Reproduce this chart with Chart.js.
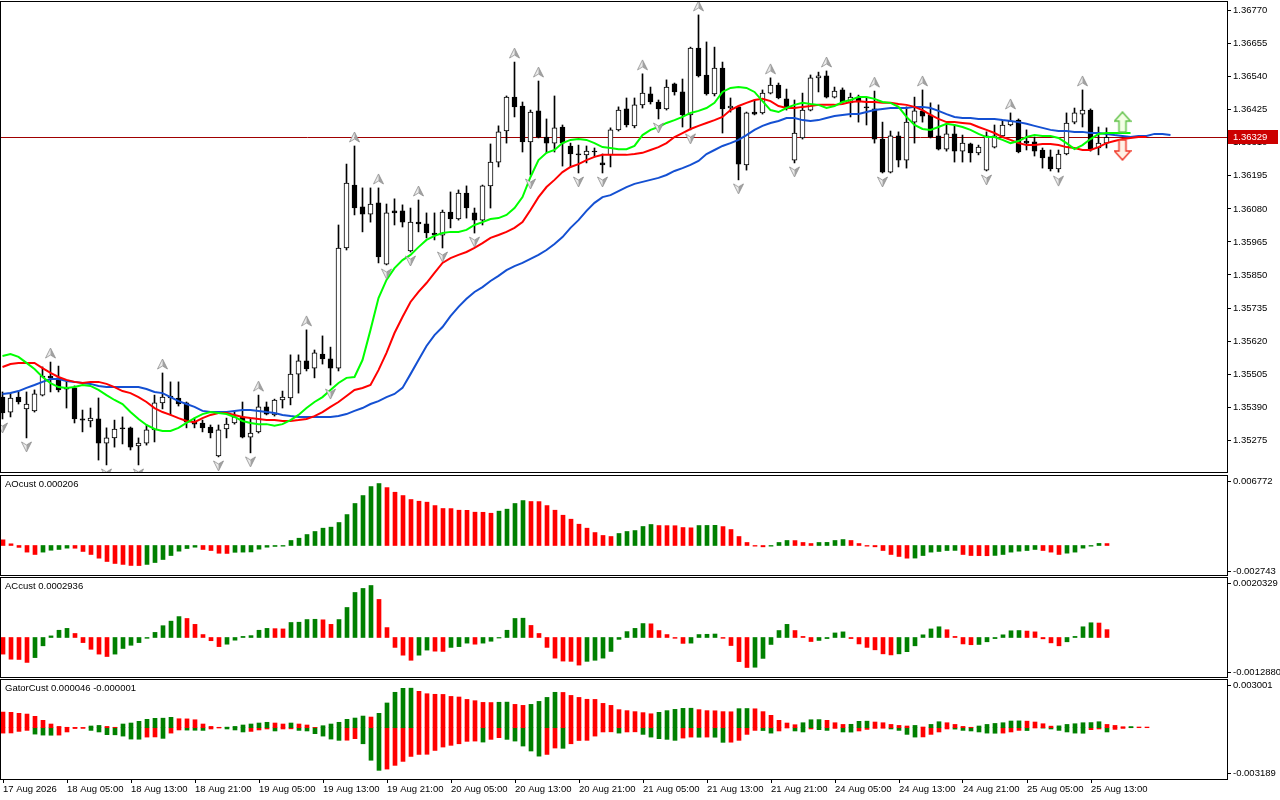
<!DOCTYPE html>
<html>
<head>
<meta charset="utf-8">
<title>H1 chart with Alligator, Fractals, AO, AC, Gator</title>
<script src="https://cdn.jsdelivr.net/npm/chart.js@4.4.1/dist/chart.umd.min.js"></script>
<style>
  html, body { margin: 0; padding: 0; background: #fff; }
  canvas { position: absolute; left: 0; }
</style>
</head>
<body>
<canvas id="main" width="1280" height="474" style="top:0"></canvas>
<canvas id="ao" width="1280" height="102" style="top:474px"></canvas>
<canvas id="ac" width="1280" height="102" style="top:576px"></canvas>
<canvas id="gator" width="1280" height="122" style="top:678px"></canvas>
<script>
// ---- data ----
const tickLabels = ['17 Aug 2026','18 Aug 05:00','18 Aug 13:00','18 Aug 21:00','19 Aug 05:00','19 Aug 13:00',
  '19 Aug 21:00','20 Aug 05:00','20 Aug 13:00','20 Aug 21:00','21 Aug 05:00','21 Aug 13:00','21 Aug 21:00',
  '24 Aug 05:00','24 Aug 13:00','24 Aug 21:00','25 Aug 05:00','25 Aug 13:00'];
const tickBars = [0,8,16,24,32,40,48,56,64,72,80,88,96,104,112,120,128,136];
const priceTicks = [1.36770,1.36655,1.36540,1.36425,1.36310,1.36195,1.36080,1.35965,1.35850,1.35735,1.35620,1.35505,1.35390,1.35275];

const open = [
1.35425,1.35373,1.35425,1.35384,1.35377,1.35432,1.35498,1.35492,1.35457,1.35457,
1.35349,1.35342,1.35349,1.35265,1.35283,1.35318,1.35318,1.35255,1.35265,1.35311,
1.35405,1.35429,1.35422,1.35405,1.35338,1.35335,1.35321,1.35220,1.35314,1.35335,
1.35356,1.35286,1.35304,1.35391,1.35363,1.35415,1.35422,1.35505,1.35551,1.35526,
1.35575,1.35558,1.35526,1.35944,1.36163,1.36087,1.36062,1.36101,1.35888,1.36073,
1.36073,1.35934,1.36034,1.36028,1.35996,1.35989,1.36069,1.36045,1.36135,1.36066,
1.36041,1.36160,1.36243,1.36351,1.36469,1.36438,1.36313,1.36421,1.36330,1.36309,
1.36365,1.36299,1.36271,1.36268,1.36281,1.36240,1.36268,1.36355,1.36428,1.36369,
1.36442,1.36480,1.36452,1.36428,1.36515,1.36487,1.36407,1.36640,1.36546,1.36480,
1.36570,1.36431,1.36435,1.36233,1.36417,1.36414,1.36483,1.36511,1.36463,1.36250,
1.36327,1.36424,1.36536,1.36543,1.36469,1.36494,1.36449,1.36469,1.36435,1.36428,
1.36323,1.36208,1.36334,1.36250,1.36382,1.36421,1.36407,1.36334,1.36288,1.36341,
1.36281,1.36306,1.36275,1.36215,1.36295,1.36334,1.36372,1.36389,1.36316,1.36313,
1.36285,1.36261,1.36219,1.36271,1.36382,1.36410,1.36424,1.36292,1.36309];
const high = [
1.35443,1.35439,1.35443,1.35443,1.35450,1.35530,1.35547,1.35533,1.35481,1.35464,
1.35380,1.35387,1.35422,1.35318,1.35345,1.35356,1.35321,1.35283,1.35328,1.35432,
1.35509,1.35478,1.35478,1.35408,1.35352,1.35345,1.35328,1.35328,1.35352,1.35373,
1.35408,1.35352,1.35432,1.35408,1.35418,1.35446,1.35572,1.35572,1.35659,1.35589,
1.35638,1.35599,1.36024,1.36236,1.36299,1.36153,1.36153,1.36153,1.36097,1.36115,
1.36094,1.36083,1.36111,1.36066,1.36066,1.36076,1.36139,1.36146,1.36160,1.36083,
1.36163,1.36306,1.36369,1.36473,1.36591,1.36452,1.36424,1.36525,1.36393,1.36473,
1.36372,1.36309,1.36302,1.36299,1.36292,1.36271,1.36362,1.36435,1.36466,1.36466,
1.36550,1.36504,1.36459,1.36529,1.36518,1.36532,1.36643,1.36755,1.36661,1.36643,
1.36591,1.36466,1.36438,1.36417,1.36459,1.36494,1.36536,1.36518,1.36497,1.36459,
1.36483,1.36546,1.36556,1.36560,1.36504,1.36501,1.36483,1.36476,1.36466,1.36490,
1.36382,1.36351,1.36348,1.36435,1.36469,1.36494,1.36449,1.36442,1.36372,1.36372,
1.36337,1.36309,1.36302,1.36348,1.36372,1.36389,1.36414,1.36393,1.36355,1.36330,
1.36292,1.36285,1.36285,1.36414,1.36431,1.36494,1.36428,1.36365,1.36362];
const low = [
1.35349,1.35356,1.35401,1.35283,1.35373,1.35429,1.35443,1.35443,1.35387,1.35335,
1.35304,1.35321,1.35206,1.35189,1.35251,1.35262,1.35241,1.35189,1.35258,1.35269,
1.35384,1.35363,1.35394,1.35318,1.35318,1.35304,1.35283,1.35217,1.35283,1.35331,
1.35283,1.35231,1.35300,1.35363,1.35359,1.35387,1.35398,1.35439,1.35516,1.35492,
1.35540,1.35467,1.35516,1.35937,1.36059,1.36000,1.36034,1.35892,1.35885,1.36024,
1.36017,1.35930,1.36000,1.35979,1.35972,1.35944,1.36014,1.36041,1.36048,1.35996,
1.36024,1.36083,1.36226,1.36309,1.36400,1.36278,1.36198,1.36327,1.36275,1.36278,
1.36229,1.36226,1.36205,1.36240,1.36261,1.36205,1.36226,1.36351,1.36365,1.36362,
1.36431,1.36445,1.36393,1.36424,1.36476,1.36365,1.36355,1.36539,1.36476,1.36473,
1.36344,1.36417,1.36181,1.36215,1.36407,1.36410,1.36480,1.36463,1.36424,1.36240,
1.36323,1.36421,1.36487,1.36466,1.36466,1.36449,1.36400,1.36382,1.36372,1.36309,
1.36205,1.36205,1.36226,1.36222,1.36309,1.36382,1.36327,1.36285,1.36281,1.36243,
1.36243,1.36243,1.36268,1.36212,1.36292,1.36330,1.36369,1.36275,1.36285,1.36264,
1.36222,1.36212,1.36208,1.36268,1.36376,1.36365,1.36281,1.36268,1.36292];
const close = [
1.35370,1.35422,1.35408,1.35401,1.35436,1.35498,1.35492,1.35450,1.35453,1.35349,
1.35345,1.35352,1.35265,1.35283,1.35314,1.35314,1.35251,1.35265,1.35311,1.35405,
1.35425,1.35422,1.35401,1.35338,1.35331,1.35318,1.35300,1.35311,1.35331,1.35356,
1.35286,1.35300,1.35391,1.35366,1.35415,1.35425,1.35505,1.35551,1.35523,1.35579,
1.35558,1.35526,1.35944,1.36170,1.36083,1.36062,1.36097,1.35913,1.36066,1.36066,
1.36034,1.36034,1.36028,1.35996,1.35989,1.36069,1.36045,1.36135,1.36083,1.36041,
1.36160,1.36243,1.36348,1.36469,1.36435,1.36313,1.36417,1.36330,1.36309,1.36362,
1.36309,1.36271,1.36268,1.36281,1.36278,1.36233,1.36355,1.36424,1.36372,1.36442,
1.36483,1.36452,1.36428,1.36504,1.36487,1.36407,1.36640,1.36543,1.36480,1.36570,
1.36428,1.36438,1.36236,1.36414,1.36410,1.36483,1.36511,1.36466,1.36431,1.36344,
1.36424,1.36536,1.36543,1.36469,1.36490,1.36452,1.36469,1.36452,1.36431,1.36323,
1.36208,1.36334,1.36250,1.36382,1.36421,1.36403,1.36330,1.36288,1.36341,1.36281,
1.36309,1.36275,1.36295,1.36334,1.36334,1.36372,1.36386,1.36278,1.36309,1.36281,
1.36257,1.36219,1.36271,1.36379,1.36414,1.36424,1.36285,1.36309,1.36329];

// Alligator lines (already shifted forward, so they run past the last candle)
const lips = [
1.35568,1.35575,1.35565,1.35544,1.35523,1.35495,1.35474,1.35460,1.35457,1.35460,
1.35467,1.35464,1.35450,1.35432,1.35415,1.35401,1.35373,1.35349,1.35328,1.35314,
1.35307,1.35307,1.35318,1.35335,1.35352,1.35366,1.35373,1.35370,1.35366,1.35356,
1.35342,1.35335,1.35331,1.35331,1.35325,1.35331,1.35345,1.35363,1.35387,1.35408,
1.35425,1.35450,1.35474,1.35492,1.35495,1.35554,1.35659,1.35770,1.35833,1.35874,
1.35902,1.35920,1.35947,1.35972,1.35986,1.35996,1.36000,1.36000,1.36007,1.36024,
1.36034,1.36045,1.36048,1.36059,1.36083,1.36121,1.36191,1.36250,1.36275,1.36285,
1.36309,1.36320,1.36323,1.36320,1.36309,1.36295,1.36292,1.36288,1.36288,1.36299,
1.36337,1.36355,1.36365,1.36379,1.36389,1.36400,1.36414,1.36421,1.36431,1.36449,
1.36487,1.36501,1.36504,1.36501,1.36487,1.36455,1.36424,1.36417,1.36431,1.36442,
1.36449,1.36445,1.36442,1.36431,1.36438,1.36452,1.36459,1.36469,1.36469,1.36463,
1.36452,1.36449,1.36435,1.36400,1.36372,1.36358,1.36355,1.36365,1.36376,1.36372,
1.36365,1.36355,1.36341,1.36330,1.36330,1.36320,1.36309,1.36316,1.36330,1.36337,
1.36334,1.36334,1.36327,1.36309,1.36288,1.36302,1.36323,1.36341,1.36344,1.36344,
1.36344,1.36344];
const teeth = [
1.35530,1.35540,1.35544,1.35544,1.35544,1.35526,1.35509,1.35495,1.35485,1.35478,
1.35474,1.35478,1.35478,1.35471,1.35460,1.35446,1.35439,1.35425,1.35408,1.35387,
1.35373,1.35363,1.35352,1.35342,1.35338,1.35352,1.35363,1.35370,1.35370,1.35363,
1.35356,1.35352,1.35349,1.35345,1.35345,1.35342,1.35342,1.35345,1.35349,1.35359,
1.35373,1.35391,1.35408,1.35429,1.35450,1.35457,1.35467,1.35519,1.35579,1.35648,
1.35704,1.35756,1.35791,1.35822,1.35857,1.35892,1.35909,1.35920,1.35930,1.35944,
1.35961,1.35979,1.35989,1.36000,1.36014,1.36034,1.36076,1.36121,1.36156,1.36181,
1.36208,1.36226,1.36236,1.36250,1.36261,1.36268,1.36268,1.36268,1.36268,1.36271,
1.36275,1.36285,1.36295,1.36309,1.36330,1.36344,1.36358,1.36369,1.36379,1.36389,
1.36400,1.36424,1.36438,1.36449,1.36459,1.36463,1.36455,1.36438,1.36431,1.36431,
1.36435,1.36438,1.36442,1.36442,1.36442,1.36445,1.36452,1.36455,1.36452,1.36452,
1.36449,1.36449,1.36445,1.36442,1.36435,1.36424,1.36407,1.36393,1.36382,1.36382,
1.36379,1.36376,1.36365,1.36355,1.36344,1.36330,1.36320,1.36309,1.36302,1.36302,
1.36306,1.36306,1.36302,1.36295,1.36292,1.36285,1.36285,1.36295,1.36309,1.36316,
1.36323,1.36327,1.36330,1.36330];
const jaw = [
1.35436,1.35439,1.35446,1.35457,1.35467,1.35478,1.35488,1.35488,1.35481,1.35478,
1.35474,1.35471,1.35464,1.35460,1.35460,1.35460,1.35460,1.35460,1.35453,1.35443,
1.35439,1.35425,1.35411,1.35401,1.35391,1.35377,1.35373,1.35373,1.35373,1.35377,
1.35380,1.35380,1.35377,1.35373,1.35370,1.35363,1.35359,1.35356,1.35356,1.35356,
1.35356,1.35356,1.35359,1.35366,1.35377,1.35387,1.35401,1.35411,1.35425,1.35436,
1.35457,1.35505,1.35554,1.35603,1.35641,1.35669,1.35707,1.35739,1.35767,1.35791,
1.35808,1.35829,1.35847,1.35867,1.35881,1.35892,1.35906,1.35920,1.35937,1.35958,
1.35982,1.36014,1.36041,1.36073,1.36101,1.36121,1.36128,1.36142,1.36156,1.36167,
1.36174,1.36181,1.36188,1.36198,1.36212,1.36222,1.36233,1.36247,1.36271,1.36285,
1.36299,1.36309,1.36320,1.36337,1.36355,1.36369,1.36379,1.36386,1.36396,1.36396,
1.36389,1.36386,1.36389,1.36396,1.36403,1.36407,1.36410,1.36410,1.36417,1.36424,
1.36428,1.36431,1.36431,1.36431,1.36435,1.36435,1.36431,1.36421,1.36410,1.36400,
1.36396,1.36396,1.36393,1.36393,1.36393,1.36389,1.36386,1.36382,1.36376,1.36369,
1.36362,1.36355,1.36351,1.36351,1.36348,1.36348,1.36344,1.36344,1.36341,1.36337,
1.36334,1.36330,1.36334,1.36334,1.36341,1.36341,1.36337];

const fractalUpBars = [6,20,32,38,44,47,52,64,67,80,87,96,103,109,115,126,135];
const fractalDownBars = [0,3,13,17,27,31,41,48,51,55,59,66,72,75,82,86,92,99,110,123,132];
const signalUp = [{bar: 140, price: 1.36382}];
const signalDown = [{bar: 140, price: 1.36285}];

const ao = [
0.00060,0.00018,-0.00020,-0.00070,-0.00095,-0.00070,-0.00050,-0.00042,-0.00028,-0.00029,
-0.00063,-0.00095,-0.00134,-0.00169,-0.00190,-0.00200,-0.00211,-0.00212,-0.00200,-0.00180,
-0.00148,-0.00106,-0.00060,-0.00032,-0.00018,-0.00042,-0.00053,-0.00082,-0.00084,-0.00072,
-0.00070,-0.00068,-0.00039,-0.00018,-0.00010,-0.00007,0.00053,0.00077,0.00116,0.00148,
0.00183,0.00194,0.00243,0.00327,0.00444,0.00528,0.00623,0.00655,0.00612,0.00563,
0.00528,0.00486,0.00468,0.00458,0.00422,0.00391,0.00390,0.00373,0.00372,0.00352,
0.00351,0.00341,0.00363,0.00384,0.00444,0.00475,0.00465,0.00464,0.00422,0.00373,
0.00320,0.00278,0.00225,0.00183,0.00137,0.00106,0.00095,0.00127,0.00148,0.00158,
0.00201,0.00222,0.00211,0.00210,0.00209,0.00190,0.00187,0.00211,0.00212,0.00213,
0.00200,0.00169,0.00095,0.00032,-0.00007,-0.00014,-0.00007,0.00032,0.00053,0.00052,
0.00032,0.00021,0.00032,0.00033,0.00053,0.00063,0.00053,0.00021,-0.00007,-0.00014,
-0.00053,-0.00095,-0.00116,-0.00134,-0.00133,-0.00106,-0.00070,-0.00063,-0.00053,-0.00052,
-0.00095,-0.00106,-0.00107,-0.00108,-0.00105,-0.00095,-0.00070,-0.00060,-0.00053,-0.00042,
-0.00053,-0.00070,-0.00095,-0.00081,-0.00070,-0.00028,-0.00007,0.00022,0.000206];
const ac = [
-0.00062,-0.00081,-0.00082,-0.00093,-0.00075,-0.00031,0.00006,0.00027,0.00034,0.00015,
-0.00019,-0.00044,-0.00062,-0.00071,-0.00062,-0.00041,-0.00029,-0.00019,-0.00003,0.00019,
0.00044,0.00061,0.00078,0.00071,0.00049,0.00011,-0.00012,-0.00034,-0.00025,-0.00010,
0.00004,0.00007,0.00027,0.00034,0.00033,0.00032,0.00056,0.00057,0.00067,0.00068,
0.00066,0.00049,0.00067,0.00112,0.00168,0.00183,0.00194,0.00142,0.00037,-0.00037,
-0.00066,-0.00085,-0.00066,-0.00047,-0.00051,-0.00052,-0.00037,-0.00034,-0.00021,-0.00025,
-0.00021,-0.00014,-0.00002,0.00027,0.00071,0.00072,0.00045,0.00015,-0.00037,-0.00077,
-0.00088,-0.00089,-0.00103,-0.00089,-0.00085,-0.00077,-0.00052,-0.00007,0.00022,0.00034,
0.00052,0.00051,0.00026,0.00011,-0.00003,-0.00022,-0.00021,0.00011,0.00012,0.00013,
-0.00003,-0.00030,-0.00090,-0.00112,-0.00111,-0.00078,-0.00026,0.00026,0.00049,0.00026,
0.00004,-0.00015,-0.00011,-0.00004,0.00017,0.00021,-0.00004,-0.00024,-0.00037,-0.00046,
-0.00061,-0.00065,-0.00061,-0.00053,-0.00031,0.00010,0.00032,0.00040,0.00029,0.00004,
-0.00024,-0.00027,-0.00026,-0.00016,-0.00004,0.00010,0.00025,0.00026,0.00024,0.00021,
-0.00005,-0.00020,-0.00031,-0.00016,0.00004,0.00040,0.00055,0.00054,0.0002936];
const gatorUp = [
0.00110,0.00108,0.00101,0.00096,0.00080,0.00052,0.00026,0.00009,0.00003,0.00002,
0.00001,0.00012,0.00016,0.00009,0.00003,0.00026,0.00033,0.00045,0.00059,0.00066,
0.00067,0.00073,0.00063,0.00062,0.00056,0.00026,0.00009,0.00003,0.00004,0.00009,
0.00019,0.00026,0.00033,0.00038,0.00033,0.00026,0.00033,0.00026,0.00019,0.00002,
0.00014,0.00026,0.00038,0.00059,0.00068,0.00082,0.00075,0.00101,0.00174,0.00249,
0.00277,0.00278,0.00256,0.00239,0.00235,0.00234,0.00220,0.00216,0.00199,0.00190,
0.00178,0.00177,0.00179,0.00180,0.00164,0.00157,0.00164,0.00185,0.00213,0.00249,
0.00248,0.00227,0.00213,0.00200,0.00199,0.00171,0.00157,0.00127,0.00120,0.00113,
0.00106,0.00098,0.00108,0.00120,0.00129,0.00136,0.00137,0.00127,0.00120,0.00119,
0.00113,0.00112,0.00134,0.00135,0.00133,0.00113,0.00087,0.00052,0.00033,0.00021,
0.00035,0.00056,0.00057,0.00052,0.00035,0.00023,0.00024,0.00045,0.00046,0.00040,
0.00035,0.00023,0.00016,0.00012,0.00016,0.00005,0.00023,0.00042,0.00035,0.00023,
0.00009,0.00003,0.00012,0.00023,0.00030,0.00035,0.00047,0.00048,0.00046,0.00040,
0.00028,0.00011,0.00013,0.00023,0.00028,0.00035,0.00036,0.00042,0.00023,0.00016,
0.00007,0.00008,0.00005,0.000046];
const gatorDown = [
-0.00038,-0.00037,-0.00026,-0.00019,-0.00045,-0.00052,-0.00053,-0.00052,-0.00030,-0.00006,
-0.00005,-0.00019,-0.00030,-0.00049,-0.00050,-0.00059,-0.00080,-0.00081,-0.00066,-0.00065,
-0.00075,-0.00038,-0.00016,-0.00017,-0.00018,-0.00019,-0.00009,-0.00002,-0.00009,-0.00016,
-0.00030,-0.00026,-0.00016,-0.00009,-0.00023,-0.00009,-0.00008,-0.00019,-0.00023,-0.00042,
-0.00059,-0.00080,-0.00089,-0.00088,-0.00077,-0.00113,-0.00229,-0.00300,-0.00291,-0.00265,
-0.00237,-0.00202,-0.00188,-0.00187,-0.00160,-0.00136,-0.00124,-0.00113,-0.00096,-0.00094,
-0.00101,-0.00082,-0.00070,-0.00082,-0.00094,-0.00129,-0.00164,-0.00200,-0.00188,-0.00143,
-0.00145,-0.00113,-0.00090,-0.00089,-0.00059,-0.00030,-0.00029,-0.00038,-0.00030,-0.00029,
-0.00047,-0.00066,-0.00077,-0.00082,-0.00089,-0.00073,-0.00066,-0.00067,-0.00066,-0.00067,
-0.00103,-0.00102,-0.00089,-0.00047,-0.00019,-0.00020,-0.00038,-0.00023,-0.00002,-0.00023,
-0.00030,-0.00009,-0.00014,-0.00019,-0.00005,-0.00030,-0.00031,-0.00023,-0.00012,-0.00005,
-0.00004,-0.00009,-0.00019,-0.00047,-0.00066,-0.00065,-0.00047,-0.00030,-0.00009,-0.00010,
-0.00019,-0.00023,-0.00030,-0.00038,-0.00039,-0.00038,-0.00030,-0.00019,-0.00020,-0.00002,
-0.00003,-0.00009,-0.00019,-0.00030,-0.00038,-0.00039,-0.00014,-0.00009,-0.00030,-0.00012,
-0.00005,-0.000001];

const aoTickValues = [0.006772, -0.002743];
const aoTickLabels = ['0.006772', '-0.002743'];
const acTickValues = [0.0020329, -0.0012880];
const acTickLabels = ['0.0020329', '-0.0012880'];
const gatorTickValues = [0.003001, -0.003189];
const gatorTickLabels = ['0.003001', '-0.003189'];

// ---- look ----
const GREEN = '#008000', RED = '#ff0000';
const AXIS_W = 53;
const X_MIN = -0.1875, X_MAX = 153.0625;   // 8 px per bar
const X_SHIFT = 0.0625;                    // half pixel for the 4px histograms

Chart.defaults.font.family = '"Liberation Sans", Arial, sans-serif';
Chart.defaults.font.size = 9.5;
Chart.defaults.color = '#000';

const pts = arr => arr.map((v, i) => ({x: i, y: v}));
const lastClose = close[close.length - 1];

function fractalIcon(up) {
  const c = document.createElement('canvas');
  c.width = 11; c.height = 30;
  const g = c.getContext('2d');
  const t = up ? 1 : 29, b = up ? 11 : 19, n = up ? 8 : 22;
  g.fillStyle = '#ececec';
  g.beginPath(); g.moveTo(5.5, t); g.lineTo(0.5, b); g.lineTo(5.5, n); g.closePath(); g.fill();
  g.fillStyle = '#a4a4a4';
  g.beginPath(); g.moveTo(5.5, t); g.lineTo(10.5, b); g.lineTo(5.5, n); g.closePath(); g.fill();
  g.strokeStyle = '#8e8e8e'; g.lineWidth = 0.8;
  g.beginPath(); g.moveTo(5.5, t); g.lineTo(0.5, b); g.lineTo(5.5, n); g.lineTo(10.5, b); g.closePath(); g.stroke();
  return c;
}

function bigArrow(up, stroke, fill) {
  const c = document.createElement('canvas');
  c.width = 18; c.height = 22;
  const g = c.getContext('2d');
  const shape = [[9,1],[17,10],[12.5,10],[12.5,21],[5.5,21],[5.5,10],[1,10]];
  g.beginPath();
  shape.forEach(([x, y], k) => {
    const yy = up ? y : 22 - y;
    k ? g.lineTo(x, yy) : g.moveTo(x, yy);
  });
  g.closePath();
  g.fillStyle = fill; g.fill();
  g.strokeStyle = stroke; g.lineWidth = 1.5; g.stroke();
  return c;
}

const frame = {
  id: 'frame',
  afterDraw(chart) {
    const {ctx, chartArea: a} = chart;
    ctx.save();
    ctx.strokeStyle = '#000';
    ctx.lineWidth = 1;
    ctx.strokeRect(a.left - 0.5, a.top - 0.5, a.right - a.left + 1, a.bottom - a.top + 1);
    ctx.restore();
  }
};

function paneLabel(text) {
  return {
    id: 'paneLabel',
    afterDraw(chart) {
      const {ctx, chartArea: a} = chart;
      ctx.save();
      ctx.font = '9.5px "Liberation Sans", Arial, sans-serif';
      ctx.fillStyle = '#000';
      ctx.textBaseline = 'middle';
      ctx.fillText(text, a.left + 4, a.top + 8);
      ctx.restore();
    }
  };
}

const priceLine = {
  id: 'priceLine',
  beforeDatasetsDraw(chart) {
    const {ctx, chartArea: a, scales: {y}} = chart;
    const py = Math.round(y.getPixelForValue(lastClose)) + 0.5;
    ctx.save();
    ctx.strokeStyle = '#a00000';
    ctx.lineWidth = 1;
    ctx.beginPath(); ctx.moveTo(a.left, py); ctx.lineTo(a.right, py); ctx.stroke();
    ctx.restore();
  },
  afterDraw(chart) {
    const {ctx, chartArea: a, scales: {y}} = chart;
    const py = Math.round(y.getPixelForValue(lastClose));
    ctx.save();
    ctx.fillStyle = '#cc0000';
    ctx.fillRect(a.right + 1, py - 7, 50, 14);
    ctx.fillStyle = '#fff';
    ctx.font = '9.5px "Liberation Sans", Arial, sans-serif';
    ctx.textBaseline = 'middle';
    ctx.fillText(lastClose.toFixed(5), a.right + 6, py);
    ctx.restore();
  }
};

function noEdgePad(s) {
  s.paddingTop = 0; s.paddingBottom = 0; s.paddingLeft = 0; s.paddingRight = 0;
}

function rightAxis(min, max, values, labels) {
  return {
    position: 'right', min, max,
    afterFit(s) { s.width = AXIS_W; noEdgePad(s); },
    afterBuildTicks(s) { s.ticks = values.map(v => ({value: v})); },
    ticks: { callback: (v, i) => labels[i], padding: 2, color: '#000' },
    grid: { drawOnChartArea: false, drawTicks: true, tickLength: 4, color: '#000' },
    border: { display: false }
  };
}

const hiddenX = shift => ({ type: 'linear', offset: false, min: X_MIN - shift, max: X_MAX - shift, display: false });

const common = {
  responsive: false,
  animation: false,
  events: [],
  plugins: { legend: { display: false }, tooltip: { enabled: false } }
};

// ---- price pane ----
new Chart(document.getElementById('main'), {
  type: 'bar',
  data: {
    datasets: [
      { type: 'bar', data: low.map((l, i) => ({x: i, y: [l, high[i]]})), backgroundColor: '#000',
        barThickness: 1, grouped: false, order: 10 },
      { type: 'bar', data: open.map((o, i) => ({x: i, y: [o, close[i]]})),
        backgroundColor: open.map((o, i) => close[i] > o ? '#fff' : '#000'),
        borderColor: '#000', borderWidth: 1, borderSkipped: false,
        barThickness: 5, minBarLength: 1, grouped: false, order: 9 },
      { type: 'line', data: pts(jaw), borderColor: '#1450d2', borderWidth: 2, pointRadius: 0, order: 5 },
      { type: 'line', data: pts(teeth), borderColor: '#ff0000', borderWidth: 2, pointRadius: 0, order: 4 },
      { type: 'line', data: pts(lips), borderColor: '#00ff00', borderWidth: 2, pointRadius: 0, order: 3 },
      { type: 'scatter', data: fractalUpBars.map(i => ({x: i, y: high[i]})),
        pointStyle: fractalIcon(true), pointRadius: 6, order: 1 },
      { type: 'scatter', data: fractalDownBars.map(i => ({x: i, y: low[i]})),
        pointStyle: fractalIcon(false), pointRadius: 6, order: 1 },
      { type: 'scatter', data: signalUp.map(s => ({x: s.bar, y: s.price})),
        pointStyle: bigArrow(true, '#62c24a', '#f4ffe6'), pointRadius: 9, order: 0 },
      { type: 'scatter', data: signalDown.map(s => ({x: s.bar, y: s.price})),
        pointStyle: bigArrow(false, '#f03a2a', '#fff2e6'), pointRadius: 9, order: 0 }
    ]
  },
  options: {
    ...common,
    layout: { autoPadding: false, padding: { left: 1, top: 2, right: 0, bottom: 2 } },
    scales: {
      x: hiddenX(0),
      y: rightAxis(1.351644, 1.368000, priceTicks, priceTicks.map(v => v.toFixed(5)))
    }
  },
  plugins: [priceLine, frame]
});

// ---- oscillator panes ----
const upDown = arr => arr.map((v, i) => (i > 0 && v > arr[i - 1]) ? GREEN : RED);
const absUpDown = arr => arr.map((v, i) => (i > 0 && Math.abs(v) > Math.abs(arr[i - 1])) ? GREEN : RED);

function histoPane(id, datasets, min, max, tv, tl, label, bottomAxis) {
  const x = hiddenX(X_SHIFT);
  if (bottomAxis) {
    Object.assign(x, {
      display: true, position: 'bottom',
      afterFit(s) { s.height = 21; noEdgePad(s); },
      afterBuildTicks(s) { s.ticks = tickBars.map(v => ({value: v})); },
      ticks: { callback: (v, i) => tickLabels[i], align: 'start', maxRotation: 0, autoSkip: false, padding: 1, color: '#000' },
      grid: { offset: false, drawOnChartArea: false, drawTicks: true, tickLength: 4, color: '#000' },
      border: { display: false }
    });
  }
  new Chart(document.getElementById(id), {
    type: 'bar',
    data: { datasets },
    options: {
      ...common,
      layout: { autoPadding: false, padding: { left: 1, top: 2, right: 0, bottom: bottomAxis ? 0 : 1 } },
      scales: { x, y: rightAxis(min, max, tv, tl) }
    },
    plugins: [frame, paneLabel(label)]
  });
}

const histo = (arr, colors) => ({ data: pts(arr), backgroundColor: colors, barThickness: 4, grouped: false });

histoPane('ao', [histo(ao, upDown(ao))], -0.003118, 0.007346,
  aoTickValues, aoTickLabels, 'AOcust ' + ao[ao.length - 1].toFixed(6), false);
histoPane('ac', [histo(ac, upDown(ac))], -0.001474, 0.002220,
  acTickValues, acTickLabels, 'ACcust ' + ac[ac.length - 1].toFixed(7), false);
histoPane('gator', [histo(gatorUp, upDown(gatorUp)), histo(gatorDown, absUpDown(gatorDown))], -0.003608, 0.003355,
  gatorTickValues, gatorTickLabels,
  'GatorCust ' + gatorUp[gatorUp.length - 1].toFixed(6) + ' ' + gatorDown[gatorDown.length - 1].toFixed(6), true);
</script>
</body>
</html>
